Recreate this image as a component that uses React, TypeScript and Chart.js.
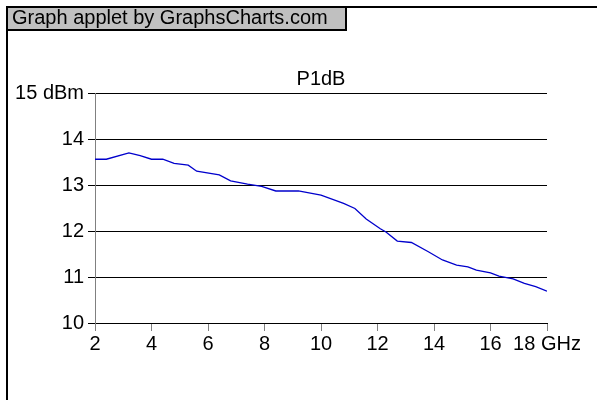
import React, { useEffect, useRef } from "react";
import { Chart, registerables } from "chart.js";

Chart.register(...registerables);

const chartTitle = "P1dB";
const headerText = "Graph applet by GraphsCharts.com";
const freqGHz = [2.0, 2.4, 3.2, 3.6, 4.0, 4.4, 4.8, 5.3, 5.6, 6.4, 6.8, 7.4, 7.9, 8.4, 9.2, 10.0, 10.8, 11.2, 11.6, 12.1, 12.3, 12.7, 13.2, 13.8, 14.3, 14.8, 15.2, 15.5, 16.0, 16.3, 16.8, 17.2, 17.6, 18.0];
const p1dBm = [13.56, 13.56, 13.7, 13.64, 13.56, 13.56, 13.47, 13.43, 13.3, 13.22, 13.09, 13.02, 12.97, 12.87, 12.87, 12.78, 12.6, 12.49, 12.26, 12.05, 11.98, 11.78, 11.75, 11.55, 11.37, 11.26, 11.22, 11.15, 11.09, 11.02, 10.96, 10.86, 10.79, 10.69];
const xTickValues = [2, 4, 6, 8, 10, 12, 14, 16, 18];
const yTickValues = [10, 11, 12, 13, 14, 15];
const xUnit = "GHz";
const yUnit = "dBm";

const FONT = "'Liberation Sans', Arial, sans-serif";
const FSIZE = 20;

export default function App() {
  const ref = useRef<HTMLCanvasElement | null>(null);
  useEffect(() => {
    if (!ref.current) return;
    const framePlugin = {
      id: "frame",
      beforeDraw(chart: any) {
        const ctx = chart.ctx;
        ctx.save();
        ctx.fillStyle = "#ffffff";
        ctx.fillRect(0, 0, chart.width, chart.height);
        // header box
        ctx.fillStyle = "#c0c0c0";
        ctx.fillRect(6, 6, 341, 25);
        ctx.fillStyle = "#000";
        ctx.fillRect(6, 6, chart.width - 6, 2); // top frame line
        ctx.fillRect(6, 6, 2, chart.height - 6); // left frame line
        ctx.fillRect(6, 29, 341, 2); // header bottom
        ctx.fillRect(345, 6, 2, 25); // header right
        ctx.font = `${FSIZE}px ${FONT}`;
        ctx.textBaseline = "alphabetic";
        ctx.textAlign = "left";
        ctx.fillText(headerText, 12, 24);
        ctx.restore();
      },
      afterDraw(chart: any) {
        const ctx = chart.ctx;
        const a = chart.chartArea;
        ctx.save();
        ctx.fillStyle = "#000";
        ctx.font = `${FSIZE}px ${FONT}`;
        ctx.textAlign = "center";
        ctx.textBaseline = "alphabetic";
        ctx.fillText(chartTitle, (a.left + a.right) / 2, 85);
        ctx.restore();
      },
    };
    const chart = new Chart(ref.current, {
      type: "line",
      data: {
        datasets: [
          {
            data: freqGHz.map((f, i) => ({ x: f, y: p1dBm[i] })),
            borderColor: "#0000cc",
            borderWidth: 1.3,
            pointRadius: 0,
            tension: 0,
            fill: false,
          },
        ],
      },
      options: {
        animation: false,
        responsive: false,
        maintainAspectRatio: false,
        layout: { padding: { left: 0, right: 50, top: 93, bottom: 0 } },
        plugins: { legend: { display: false }, tooltip: { enabled: false }, title: { display: false } },
        scales: {
          x: {
            type: "linear",
            min: 2,
            max: 18,
            afterFit(scale: any) {
              scale.height = 77;
            },
            afterBuildTicks(scale: any) {
              scale.ticks = xTickValues.map((v) => ({ value: v }));
            },
            ticks: {
              color: "#000",
              font: { family: FONT, size: FSIZE },
              padding: 1,
              maxRotation: 0,
              autoSkip: false,
              callback: (v: any) => (v === 18 ? `${v} ${xUnit}` : String(v)),
            },
            grid: { drawOnChartArea: false, color: "#808080", tickLength: 8 },
            border: { display: true, color: "#000" },
          },
          y: {
            min: 10,
            max: 15,
            afterFit(scale: any) {
              scale.width = 95;
            },
            afterBuildTicks(scale: any) {
              scale.ticks = yTickValues.map((v) => ({ value: v }));
            },
            ticks: {
              color: "#000",
              font: { family: FONT, size: FSIZE },
              padding: 4,
              autoSkip: false,
              callback: (v: any) => (v === 15 ? `${v} ${yUnit}` : String(v)),
            },
            grid: { color: "#000", tickLength: 7 },
            border: { display: true, color: "#808080" },
          },
        },
      },
      plugins: [framePlugin],
    });
    return () => chart.destroy();
  }, []);
  return (
    <canvas
      ref={ref}
      width={597}
      height={400}
      style={{ position: "absolute", left: 0, top: 0, width: 597, height: 400 }}
    />
  );
}
